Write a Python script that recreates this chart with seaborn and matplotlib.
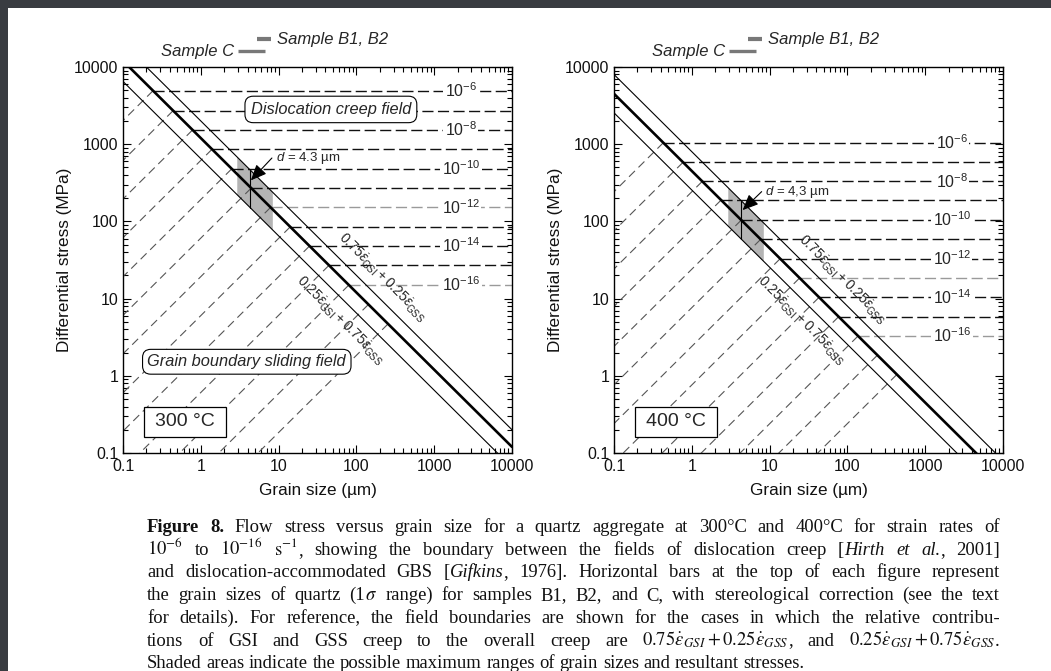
import numpy as np
import matplotlib
matplotlib.use('Agg')
import matplotlib.pyplot as plt
import matplotlib.ticker as mticker
import matplotlib.transforms as mtransforms
from matplotlib.patches import Rectangle
import seaborn as sns

sns.set_theme(style='ticks')
plt.rcParams['font.family'] = ['Liberation Sans', 'DejaVu Sans']
plt.rcParams['mathtext.fontset'] = 'custom'
plt.rcParams['mathtext.rm'] = 'Liberation Sans'
plt.rcParams['mathtext.it'] = 'Liberation Sans:italic'
plt.rcParams['mathtext.bf'] = 'Liberation Sans:bold'

W, H = 1051, 671

# ---- values ----
temps = ['300 °C', '400 °C']
grain_ends = [0.1, 10000]                      # grain size (um) at the ends of the boundary lines
bound_main = [[12000, 0.12], [4500, 0.045]]    # GSI = GSS boundary, stress (MPa) at grain_ends
bound_upper = [[20000, 0.2], [8000, 0.08]]     # 0.75 GSI + 0.25 GSS
bound_lower = [[6500, 0.065], [2550, 0.0255]]  # 0.25 GSI + 0.75 GSS
rate_exp = [-6, -7, -8, -9, -10, -11, -12, -13, -14, -15, -16]
stress_300 = [4930, 2720, 1530, 860, 480, 270, 152, 85, 48, 27, 15]
stress_400 = [1045, 583, 330, 189, 104, 58.6, 32.9, 18.5, 10.4, 5.83, 3.28]
extra_300 = [8.4, 4.7]        # slower GSS contours, sliding field only
extra_400 = [1.85, 1.04]
gray_lines = [[6, 10], [7, 10]]
label_d = 2200
shade_d = [2.9, 8.3]
d_mark = 4.3
d_label = ['4.3', '4,3']
arrow_tip = [[4.4, 340], [4.5, 140]]
arrow_tail = [[8.2, 662], [7.9, 243]]
sample_c = [3.0, 6.6]
sample_b = [5.2, 8.0]
mix_hi_pos = [[215, 18.5], [86, 17.4]]
mix_lo_pos = [[62, 5.2], [25.5, 5.2]]

caption = [
    "~Figure 8.~  Flow stress versus grain size for a quartz aggregate at 300°C and 400°C for strain rates of",
    "$10^{-6}$ to $10^{-16}$ $\\mathrm{s}^{-1}$, showing the boundary between the fields of dislocation creep [*Hirth et al.*, 2001]",
    "and dislocation-accommodated GBS [*Gifkins*, 1976]. Horizontal bars at the top of each figure represent",
    "the grain sizes of quartz (1$\\sigma$ range) for samples B1, B2, and C, with stereological correction (see the text",
    "for details). For reference, the field boundaries are shown for the cases in which the relative contribu-",
    "tions of GSI and GSS creep to the overall creep are $0.75\\dot{\\varepsilon}_{GSI} + 0.25\\dot{\\varepsilon}_{GSS}$, and $0.25\\dot{\\varepsilon}_{GSI} + 0.75\\dot{\\varepsilon}_{GSS}$.",
    "Shaded areas indicate the possible maximum ranges of grain sizes and resultant stresses.",
]


def stress_on(line, d):
    return 10 ** np.interp(np.log10(d), np.log10(grain_ends), np.log10(line))


def grain_on(line, s):
    return 10 ** np.interp(np.log10(s), np.log10(line)[::-1], np.log10(grain_ends)[::-1])


def draw_panel(ax, p, stresses, extra):
    ax.set_xscale('log')
    ax.set_yscale('log')
    main, upper, lower = bound_main[p], bound_upper[p], bound_lower[p]

    ax.fill_between(shade_d, stress_on(lower, shade_d), stress_on(upper, shade_d),
                    color='#b4b4b4', lw=0, zorder=1)

    # GSS contours (diagonal) meet the GSI contours (horizontal) on the boundary
    for s in list(stresses) + list(extra):
        d0 = grain_on(main, s)
        ax.plot([d0, d0 * 1e-4], [s, s * 1e-4], color='#555555', lw=0.8,
                dashes=(7.5, 4.5), zorder=2)
    for i, (s, e) in enumerate(zip(stresses, rate_exp)):
        d0 = grain_on(main, s)
        col = '#9a9a9a' if i in gray_lines[p] else '#111111'
        ax.plot([d0, grain_ends[1]], [s, s], color=col, lw=1.0, dashes=(8, 3.2), zorder=2)
        if e % 2 == 0:
            ax.text(label_d, s, r'$10^{%d}$' % e, ha='center', va='center', fontsize=11.5,
                    bbox=dict(fc='white', ec='none', pad=1.0), zorder=4)

    for line, lw in ((upper, 0.8), (lower, 0.8), (main, 1.9)):
        sns.lineplot(x=grain_ends, y=line, ax=ax, color='black', lw=lw,
                     estimator=None, sort=False, zorder=3)
    ax.plot([d_mark, d_mark], [stress_on(lower, d_mark), stress_on(upper, d_mark)],
            color='black', lw=0.8, zorder=3)

    ax.annotate('', xy=arrow_tip[p], xytext=arrow_tail[p],
                arrowprops=dict(arrowstyle='-|>,head_length=0.8,head_width=0.35',
                                color='black', lw=0.8, shrinkA=0, shrinkB=0,
                                mutation_scale=12), zorder=5)
    ax.text(arrow_tail[p][0] * 1.12, arrow_tail[p][1], r'$d$ = %s µm' % d_label[p],
            ha='left', va='center', fontsize=9.5, zorder=5)

    mix = r'$%s\dot{\varepsilon}_{\mathrm{GSI}} + %s\dot{\varepsilon}_{\mathrm{GSS}}$'
    ax.text(*mix_hi_pos[p], mix % ('0.75', '0.25'), rotation=-45, rotation_mode='anchor',
            ha='center', va='center', fontsize=10, zorder=5)
    ax.text(*mix_lo_pos[p], mix % ('0.25', '0.75'), rotation=-45, rotation_mode='anchor',
            ha='center', va='center', fontsize=10, zorder=5)

    # grain size bars of the samples above the frame
    trans = mtransforms.blended_transform_factory(ax.transData, ax.transAxes)
    ax.plot(sample_c, [1.041, 1.041], transform=trans, color='#787878', lw=2.4,
            solid_capstyle='butt', clip_on=False)
    ax.plot(sample_b, [1.072, 1.072], transform=trans, color='#787878', lw=3.0,
            solid_capstyle='butt', clip_on=False)
    ax.annotate('Sample C', xy=(sample_c[0], 1.041), xycoords=trans, xytext=(-3, 0),
                textcoords='offset points', ha='right', va='center', style='italic',
                fontsize=12, annotation_clip=False)
    ax.annotate('Sample B1, B2', xy=(sample_b[1], 1.072), xycoords=trans, xytext=(4, 0),
                textcoords='offset points', ha='left', va='center', style='italic',
                fontsize=12, annotation_clip=False)

    ax.add_patch(Rectangle((0.055, 0.042), 0.21, 0.076, transform=ax.transAxes,
                           fc='white', ec='black', lw=0.9, zorder=6))
    ax.text(0.16, 0.081, temps[p], transform=ax.transAxes, ha='center', va='center',
            fontsize=14, zorder=7)

    ax.set_xlim(grain_ends)
    ax.set_ylim(0.1, 10000)
    fmt = mticker.FuncFormatter(lambda v, pos: '%g' % v)
    for axis in (ax.xaxis, ax.yaxis):
        axis.set_major_locator(mticker.LogLocator(base=10, numticks=10))
        axis.set_minor_locator(mticker.LogLocator(base=10, subs=np.arange(2, 10), numticks=100))
        axis.set_major_formatter(fmt)
        axis.set_minor_formatter(mticker.NullFormatter())
    ax.tick_params(which='both', direction='in', top=True, right=True, width=0.8,
                   color='black', labelsize=11.5, labelcolor='#111111')
    ax.tick_params(which='major', length=6)
    ax.tick_params(which='minor', length=3.5)
    ax.tick_params(axis='y', pad=3.5)
    ax.tick_params(axis='x', pad=4.5)
    for sp in ax.spines.values():
        sp.set_color('black')
        sp.set_linewidth(1.0)
    ax.set_xlabel('Grain size (µm)', fontsize=12.3, labelpad=6.5, color='#111111')
    ax.set_ylabel('Differential stress (MPa)', fontsize=12.3, labelpad=1, color='#111111')


def tokenize(line):
    words, segs, buf = [], [], ''
    italic = bold = math = False
    for ch in line + ' ':
        if math:
            if ch == '$':
                segs.append(('$' + buf + '$', 'math'))
                buf, math = '', False
            else:
                buf += ch
            continue
        if ch in '$*~ ':
            if buf:
                segs.append((buf, 'bold' if bold else 'italic' if italic else 'normal'))
                buf = ''
            if ch == '$':
                math = True
            elif ch == '*':
                italic = not italic
            elif ch == '~':
                bold = not bold
            elif segs:
                words.append(segs)
                segs = []
        else:
            buf += ch
    return words


fig = plt.figure(figsize=(W / 100, H / 100), dpi=100, facecolor='#393c41')
fig.patches.append(Rectangle((8 / W, 0), 1, 1 - 8 / H, transform=fig.transFigure,
                             fc='white', ec='none', zorder=-5))

ax1 = fig.add_axes([123 / W, (H - 453) / H, 389 / W, 386 / H])
ax2 = fig.add_axes([614 / W, (H - 453) / H, 389 / W, 386 / H])
draw_panel(ax1, 0, stress_300, extra_300)
draw_panel(ax2, 1, stress_400, extra_400)

ax1.text(47, 2820, 'Dislocation creep field', ha='center', va='center', style='italic',
         fontsize=11.8, zorder=6,
         bbox=dict(boxstyle='round,pad=0.35,rounding_size=0.5', fc='white', ec='black', lw=0.8))
ax1.text(3.9, 1.52, 'Grain boundary sliding field', ha='center', va='center', style='italic',
         fontsize=11.8, zorder=6,
         bbox=dict(boxstyle='round,pad=0.3,rounding_size=0.5', fc='white', ec='black', lw=0.8))

# caption, justified line by line
cap_fs, cap_x0, cap_x1, cap_y0, cap_dy = 13.4, 147, 1000, 532, 22.7
fig.canvas.draw()
renderer = fig.canvas.get_renderer()
serif = ['Liberation Serif', 'DejaVu Serif']
for i, line in enumerate(caption):
    y = H - (cap_y0 + i * cap_dy)
    words = tokenize(line)
    placed = []
    total = 0.0
    for w in words:
        row = []
        for text, st in w:
            kw = dict(fontsize=cap_fs, family=serif, ha='left', va='baseline',
                      color='#111111', transform=mtransforms.IdentityTransform())
            if st == 'bold':
                kw['fontweight'] = 'bold'
            elif st == 'italic':
                kw['style'] = 'italic'
            elif st == 'math':
                kw['math_fontfamily'] = 'stix'
            t = fig.text(0, y, text, **kw)
            wd = t.get_window_extent(renderer=renderer).width
            row.append((t, wd))
            total += wd
        placed.append(row)
    if i < len(caption) - 1:
        gap = (cap_x1 - cap_x0 - total) / (len(placed) - 1)
    else:
        gap = cap_fs * 100 / 72 * 0.25
    x = cap_x0
    for row in placed:
        for t, wd in row:
            t.set_x(x)
            x += wd
        x += gap

fig.savefig('out.png', dpi=100, facecolor=fig.get_facecolor())
